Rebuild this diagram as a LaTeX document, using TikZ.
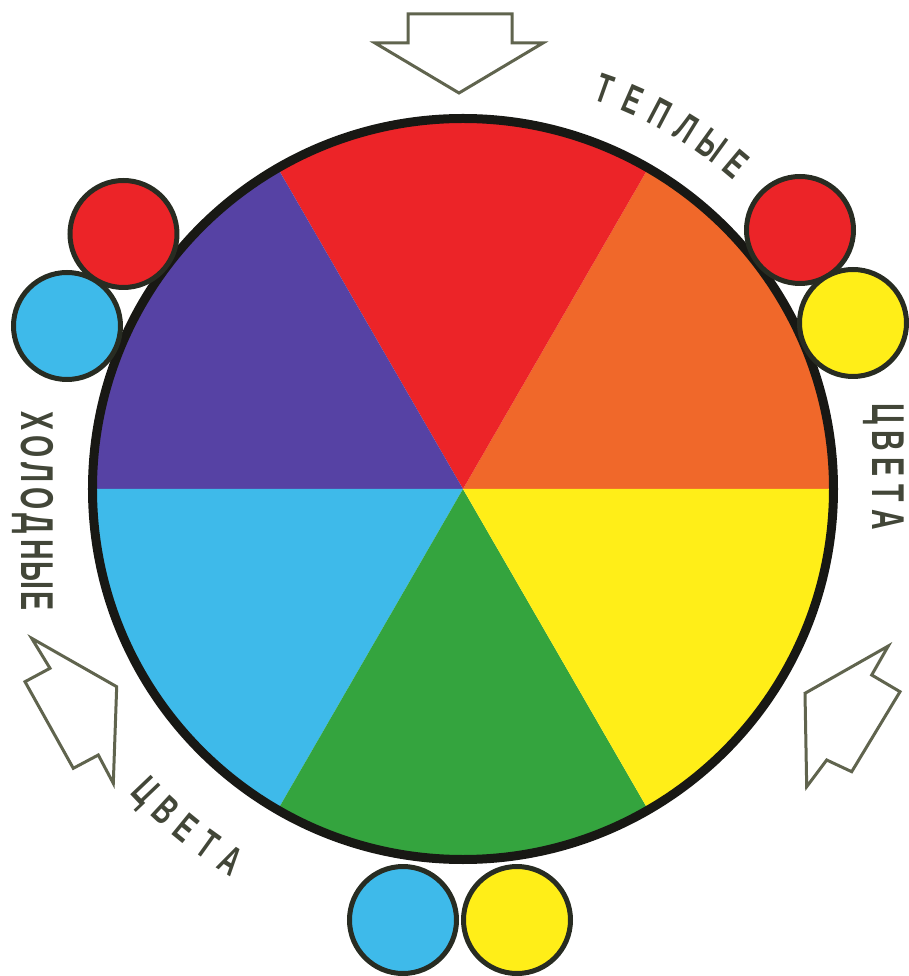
\documentclass[tikz,border=0pt]{standalone}
\usepackage{fontspec}
\newfontfamily\capsfont{Liberation Sans}[FakeStretch=0.62]
\definecolor{wheelred}{RGB}{236,36,40}
\definecolor{wheelorange}{RGB}{240,104,42}
\definecolor{wheelyellow}{RGB}{255,238,24}
\definecolor{wheelgreen}{RGB}{52,164,62}
\definecolor{wheelcyan}{RGB}{62,186,234}
\definecolor{wheelviolet}{RGB}{86,66,164}
\definecolor{rim}{RGB}{24,24,20}
\definecolor{dotline}{RGB}{40,44,34}
\definecolor{arrowline}{RGB}{96,100,78}
\definecolor{letterink}{RGB}{66,70,56}

\begin{document}
\begin{tikzpicture}[x=1pt,y=1pt,
	dot/.style={circle, draw=dotline, line width=5pt, minimum size=107pt, inner sep=0pt},
	hollow/.style={draw=arrowline, line width=3pt, fill=white, line join=miter},
	sideletter/.style={text=letterink, inner sep=0pt, text height=31pt, text depth=0pt,
		font=\capsfont\bfseries\fontsize{46}{46}\selectfont},
	arcletter/.style={text=letterink, inner sep=0pt, text height=28pt, text depth=0pt,
		font=\capsfont\bfseries\fontsize{41}{41}\selectfont}]
	\useasboundingbox (-463,-487) rectangle (445,489);
	
	% Wheel
	\foreach \a/\c in {0/wheelorange,60/wheelred,120/wheelviolet,180/wheelcyan,240/wheelgreen,300/wheelyellow} {
		\fill[\c] (0,0) -- (\a:370.5) arc[start angle=\a, end angle=\a+60, radius=370.5] -- cycle;
	}
	\draw[rim, line width=9pt] (0,0) circle[radius=370.5];
	
	% Mixing pairs
	\node[dot, fill=wheelred] (coolred) at (-339.5,255) {};
	\node[dot, fill=wheelcyan] (coolcyan) at (-396,163) {};
	\node[dot, fill=wheelred] (warmred) at (337,259) {};
	\node[dot, fill=wheelyellow] (warmyellow) at (390,166) {};
	\node[dot, fill=wheelcyan] (lowcyan) at (-60,-431) {};
	\node[dot, fill=wheelyellow] (lowyellow) at (54,-431) {};
	
	% Arrows
	\draw[hollow] (-55,475) -- (49,475) -- (49,446) -- (80,446) -- (-4,396) -- (-88,446) -- (-55,446) -- cycle;
	\draw[hollow] (-431.3,-149.3) -- (-346.3,-197.7) -- (-349.7,-294.3) -- (-364.7,-266) --
		(-389.7,-279.3) -- (-438,-192.7) -- (-413,-179.3) -- cycle;
	\draw[hollow] (425.3,-157) -- (342,-204.3) -- (343.7,-297.7) -- (363.7,-271) --
		(388.7,-282.7) -- (437,-202.7) -- (408.7,-186) -- cycle;
	
	% Warm
	\foreach \ch [count=\i, evaluate=\i as \ang using 74.6-4.1*\i] in {Т,Е,П,Л,Ы,Е} {
		\node[arcletter, rotate=\ang-90] (warm\i) at (\ang:424) {\ch};
	}
	\foreach \ch [count=\i, evaluate=\i as \yy using 101.5-26.5*\i] in {Ц,В,Е,Т,А} {
		\node[sideletter, rotate=-90] (warmcol\i) at (425,\yy) {\ch};
	}
	
	% Cool
	\foreach \ch [count=\i, evaluate=\i as \yy using 93.7-25.7*\i] in {Х,О,Л,О,Д,Н,Ы,Е} {
		\node[sideletter, rotate=-90] (cool\i) at (-426,\yy) {\ch};
	}
	\foreach \ch [count=\i, evaluate=\i as \ang using 220-3.6*(-\i)] in {Ц,В,Е,Т,А} {
		\node[arcletter, rotate=\ang+90] (coolcol\i) at (\ang:438) {\ch};
	}
\end{tikzpicture}
\end{document}
